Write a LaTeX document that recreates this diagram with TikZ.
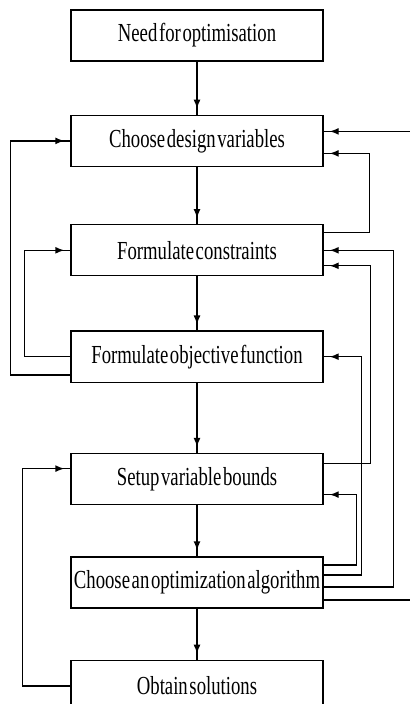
\documentclass[tikz,border=0pt]{standalone}
\usepackage{fontspec}
\setmainfont{Liberation Serif}[FakeStretch=0.72,WordSpace=0.35]
\usetikzlibrary{positioning, arrows.meta, decorations.markings}

\begin{document}
\begin{tikzpicture}[box/.style = {draw, minimum width=126pt, minimum height=25.5pt, inner sep=0pt, font=\fontsize{13pt}{15pt}\selectfont},
  flow/.style = {decoration={markings, mark=at position -3pt with {\arrow{Latex[length=4.5pt,width=3.5pt]}}}, postaction={decorate}},
  line width=0.7pt ]

\useasboundingbox (0,0) rectangle (204.5pt,-352pt);

% b1 - Need for optimisation
\node[box] (b1) at (98.5pt,-17.75pt) {Need for optimisation};

% b2 - design variables
\node[box, below=26.5pt of b1] (b2) {Choose design variables};

% b3 - constraints
\node[box, below=28.5pt of b2] (b3) {Formulate constraints};

% b4 - objective
\node[box, below=27pt of b3] (b4) {Formulate objective function};

% b5 - bounds
\node[box, below=35pt of b4] (b5) {Setup variable bounds};

% b6 - algorithm
\node[box, below=25.5pt of b5] (b6) {Choose an optimization algorithm};

% b7 - solutions
\node[box, below=25.5pt of b6] (b7) {Obtain solutions};

%--- main chain b1 -> b7 ---
\draw[flow] (b1) -- (b2);
\draw[flow] (b2) -- (b3);
\draw[flow] (b3) -- (b4);
\draw[flow] (b4) -- (b5);
\draw[flow] (b5) -- (b6);
\draw[flow] (b6) -- (b7);

%--- left loops ---
\draw[flow] ([yshift=-9.25pt]b4.west) -| ([xshift=-30pt]b2.west) -- (b2.west);
\draw[flow] (b4.west) -| ([xshift=-23pt]b3.west) -- (b3.west);
\draw[flow] (b7.west) -| ([xshift=-24pt,yshift=5.25pt]b5.west) -- ([yshift=5.25pt]b5.west);

%--- right loops ---
\coordinate (in2) at ([xshift=43pt,yshift=4.75pt]b2.east);
\draw[flow] (in2) -- ([yshift=4.75pt]b2.east);
\draw[flow] ([yshift=8.75pt]b3.east) -| ([xshift=23pt,yshift=-6.25pt]b2.east) -- ([yshift=-6.25pt]b2.east);
\draw[flow] ([yshift=-2.25pt]b6.east) -| ([xshift=35pt]b3.east) -- (b3.east);
\draw[flow] ([yshift=7.75pt]b5.east) -| ([xshift=23.5pt,yshift=-7.75pt]b3.east) -- ([yshift=-7.75pt]b3.east);
\draw[flow] ([yshift=3.75pt]b6.east) -| ([xshift=19pt]b4.east) -- (b4.east);
\draw[flow] ([yshift=8.75pt]b6.east) -| ([xshift=16.5pt,yshift=-7.75pt]b5.east) -- ([yshift=-7.75pt]b5.east);

%--- b6 -> out ---
\coordinate (out6) at ([xshift=43pt,yshift=-8.75pt]b6.east);
\draw ([yshift=-8.75pt]b6.east) -- (out6);

\end{tikzpicture}
\end{document}
